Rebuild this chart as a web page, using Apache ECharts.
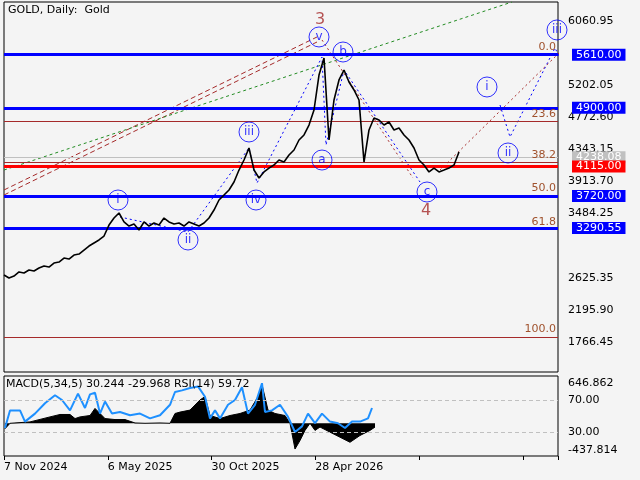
<!DOCTYPE html>
<html>
<head>
<meta charset="utf-8">
<script src="https://cdn.jsdelivr.net/npm/echarts@6/dist/echarts.min.js"></script>
<style>html,body{margin:0;background:#f4f4f4}#c{width:640px;height:480px}</style>
</head>
<body>
<div id="c"></div>
<script>
// price, one point per ~4 trading days
var price = [2663,2622,2649,2703,2689,2729,2716,2756,2783,2769,2823,2836,2890,2876,2930,2943,2997,3050,3091,3131,
  3184,3331,3425,3492,3372,3318,3345,3265,3372,3318,3358,3331,3425,3372,3345,3358,3318,3372,3345,3318,
  3358,3425,3532,3666,3733,3800,3907,4067,4201,4362,4067,3960,4041,4094,4134,4201,4174,4268,4335,4469,
  4536,4669,4870,5338,5566,4469,5004,5272,5405,5245,5138,5004,4174,4603,4763,4736,4669,4710,4603,4629,
  4536,4469,4362,4201,4134,4041,4094,4041,4067,4094,4134,4308];
var priceTicks = [6060.95,5202.05,4772.60,4343.15,3913.70,3484.25,2625.35,2195.90,1766.45];
var blueLevels = [5610.00,4900.00,3720.00,3290.55];
var redLevel = 4115.00;
var lastPrice = 4238.08;
var fibNames = ['0.0','23.6','38.2','50.0','61.8','100.0'];
var fibValues = [5610,4719,4167,3721,3276,1833];
var waveLabels = [
  ['i',22.8,3666],['ii',36.8,3131],['iii',49,4576],['iv',50.4,3666],['v',63,5847],
  ['a',63.6,4201],['b',67.8,5646],['c',84.6,3773],['i',96.6,5178],['ii',100.8,4295],['iii',110.6,5941]];
var bigLabels = [['3',63.2,6074],['4',84.4,3519]];
var bluePath = [[23.2,3439],[36.8,3238],[49,4362],[50.6,3893],[63.6,5579],[64.4,4402],[68,5405],[83.2,3907]];
var blueFuture = [[99.2,4937],[101.2,4509],[110.2,5700],[111.6,5512]];
var brownPath1 = [[63.6,5807],[81.8,3960]];
var brownPath2 = [[87.2,4067],[111.2,5646]];
var channelA = [[0,3800],[62.6,5847]];
var channelB = [[0,3733],[62.6,5780]];
var greenLine = [[0,4067],[101.6,6315]];
var macdHist = [[0.2,-78],[1.2,0],[5.2,20],[9.2,92],[11.2,127],[13.2,127],[14.2,68],[15.2,92],[17.2,112],[18.2,214],
  [19.2,141],[20.2,68],[22.2,54],[24.2,54],[26.2,5],[28.2,0],[31.2,5],[33.2,0],[34.2,141],[35.2,161],[37.2,190],
  [39.2,336],[40.2,384],[41.2,112],[43.2,68],[45.2,112],[47.2,141],[49.2,190],[50.8,384],[51.6,555],[52.8,190],
  [54.2,141],[56.2,112],[57.2,0],[58.2,-370],[59.2,-248],[60.2,-102],[61.2,0],[62.2,-102],[63.2,-54],[65.2,-127],
  [67.2,-200],[69.2,-273],[71.2,-175],[73.2,-102],[74.2,-54]];
var rsi = [[0.2,35],[1.2,57],[3.2,57],[4.2,43],[6.2,53],[8.2,66],[10.2,76],[11.6,70],[13.2,57],[14.8,78],[16.2,60],
  [17.2,77],[18.2,79],[19.2,53],[20.2,68],[21.6,53],[23.2,55],[25.2,51],[27.2,53],[29.2,47],[31.2,51],[33.2,64],
  [34.2,80],[35.6,82],[37.2,85],[38.8,87],[40.2,74],[41.2,47],[42.2,57],[43.2,47],[44.8,64],[46.2,70],[47.6,86],
  [48.8,53],[50.2,64],[51.6,91],[52.2,55],[53.6,57],[55.2,64],[56.8,49],[58.2,30],[59.6,37],[60.8,53],[62.2,41],
  [63.6,53],[65.2,43],[66.8,41],[68.2,35],[69.6,43],[71.2,43],[72.8,47],[73.6,60]];
var dateLabels = ['7 Nov 2024','6 May 2025','30 Oct 2025','28 Apr 2026'];

var font = 'DejaVu Sans';
var chart = echarts.init(document.getElementById('c'));

function hline(v, color, width, label, extra) {
  var d = {yAxis: v, lineStyle: {color: color, width: width, type: 'solid'}, label: label};
  return Object.assign(d, extra || {});
}
function boxLabel(txt, bg, fg) {
  return {show: true, position: 'end', distance: 14, formatter: txt, backgroundColor: bg, color: fg || '#fff',
    padding: [1, 4, 0, 4], fontFamily: font, fontSize: 11};
}

var levelLines = [];
priceTicks.forEach(function (t) {
  levelLines.push(hline(t, 'rgba(0,0,0,0)', 1, {show: true, position: 'end', distance: 10, formatter: t.toFixed(2),
    color: '#000', fontFamily: font, fontSize: 11}));
});
fibValues.forEach(function (v, k) {
  levelLines.push(hline(v, '#a52a2a', 1, {show: true, position: 'insideEndTop', distance: 2, formatter: fibNames[k],
    color: '#a0522d', fontFamily: font, fontSize: 11}));
});
levelLines.push(hline(lastPrice, '#c0c0c0', 1, boxLabel(lastPrice.toFixed(2), '#c0c0c0')));
levelLines.push(hline(redLevel, '#ff0000', 3, boxLabel(redLevel.toFixed(2), '#ff0000')));
blueLevels.forEach(function (v) {
  levelLines.push(hline(v, '#0000ff', 3, boxLabel(v.toFixed(2), '#0000ff')));
});

function path(data, color, type, w) {
  return {type: 'line', xAxisIndex: 0, yAxisIndex: 0, data: data, symbol: 'none', silent: true,
    lineStyle: {color: color, type: type, width: w || 1}, z: 3};
}

var option = {
  backgroundColor: '#f4f4f4',
  animation: false,
  graphic: [
    {type: 'text', left: 8, top: 5, style: {text: 'GOLD, Daily:  Gold', fontFamily: font, fontSize: 11, fill: '#000'}},
    {type: 'text', left: 6, top: 379, style: {text: 'MACD(5,34,5) 30.244 -29.968 RSI(14) 59.72', fontFamily: font, fontSize: 11, fill: '#000'}, z: 100}
  ],
  grid: [
    {left: 4, top: 2, width: 554, height: 370, show: true, borderColor: '#000', borderWidth: 1},
    {left: 4, top: 376, width: 554, height: 80, show: true, borderColor: '#000', borderWidth: 1}
  ],
  xAxis: [
    {type: 'value', gridIndex: 0, min: 0, max: 110.8, show: false},
    {type: 'value', gridIndex: 1, min: 0, max: 110.8, interval: 20.75, splitLine: {show: false},
      axisLine: {show: false}, axisTick: {show: true, length: 4, lineStyle: {color: '#000'}},
      axisLabel: {align: 'left', margin: 6, fontFamily: font, fontSize: 11, color: '#000',
        formatter: function (v) { return dateLabels[Math.round(v / 20.75)] || ''; }}}
  ],
  yAxis: [
    {type: 'value', gridIndex: 0, min: 1365, max: 6315, show: false},
    {type: 'value', gridIndex: 1, min: 0, max: 100, show: false},
    {type: 'value', gridIndex: 1, min: -470, max: 680, show: false}
  ],
  series: [
    {type: 'line', xAxisIndex: 0, yAxisIndex: 0, data: [], symbol: 'none', silent: true, z: 2,
      markLine: {symbol: 'none', silent: true, data: levelLines}},
    path(channelA, '#a52a2a', [5, 3]),
    path(channelB, '#a52a2a', [5, 3]),
    path(greenLine, '#228b22', [3, 3]),
    path(bluePath, '#0000ff', [2, 3]),
    path(blueFuture, '#0000ff', [2, 3]),
    path(brownPath1, '#a52a2a', [2, 3]),
    path(brownPath2, '#a52a2a', [2, 3]),
    {type: 'line', xAxisIndex: 0, yAxisIndex: 0, symbol: 'none', z: 5,
      data: price.map(function (p, k) { return [k, p]; }), lineStyle: {color: '#000', width: 1.6}},
    {type: 'scatter', xAxisIndex: 0, yAxisIndex: 0, symbol: 'circle', symbolSize: 20, z: 6,
      itemStyle: {color: 'rgba(0,0,0,0)', borderColor: '#0000ff', borderWidth: 1},
      label: {show: true, position: 'inside', formatter: '{b}', color: '#0000ff', fontFamily: font, fontSize: 12},
      data: waveLabels.map(function (w) { return {name: w[0], value: [w[1], w[2]]}; })},
    {type: 'scatter', xAxisIndex: 0, yAxisIndex: 0, symbolSize: 0, z: 6,
      label: {show: true, position: 'inside', formatter: '{b}', color: '#a52a2a', fontFamily: font, fontSize: 16},
      data: bigLabels.map(function (w) { return {name: w[0], value: [w[1], w[2]]}; })},
    {type: 'line', xAxisIndex: 1, yAxisIndex: 2, symbol: 'none', data: macdHist,
      lineStyle: {color: '#000', width: 1}, areaStyle: {color: '#000', opacity: 1},
      markLine: {symbol: 'none', silent: true, lineStyle: {color: 'rgba(0,0,0,0)'}, data: [
        {yAxis: 646.862, label: {position: 'end', distance: 10, formatter: '646.862', color: '#000', fontFamily: font, fontSize: 11, offset: [0, 5]}},
        {yAxis: -437.814, label: {position: 'end', distance: 10, formatter: '-437.814', color: '#000', fontFamily: font, fontSize: 11, offset: [0, -4]}}
      ]}},
    {type: 'line', xAxisIndex: 1, yAxisIndex: 1, symbol: 'none', data: rsi, z: 4,
      lineStyle: {color: '#1e90ff', width: 2},
      markLine: {symbol: 'none', silent: true, lineStyle: {color: '#c0c0c0', type: [4, 3], width: 1}, data: [
        {yAxis: 70, label: {position: 'end', distance: 10, formatter: '70.00', color: '#000', fontFamily: font, fontSize: 11}},
        {yAxis: 30, label: {position: 'end', distance: 10, formatter: '30.00', color: '#000', fontFamily: font, fontSize: 11}}
      ]}}
  ]
};
chart.setOption(option);
</script>
</body>
</html>
